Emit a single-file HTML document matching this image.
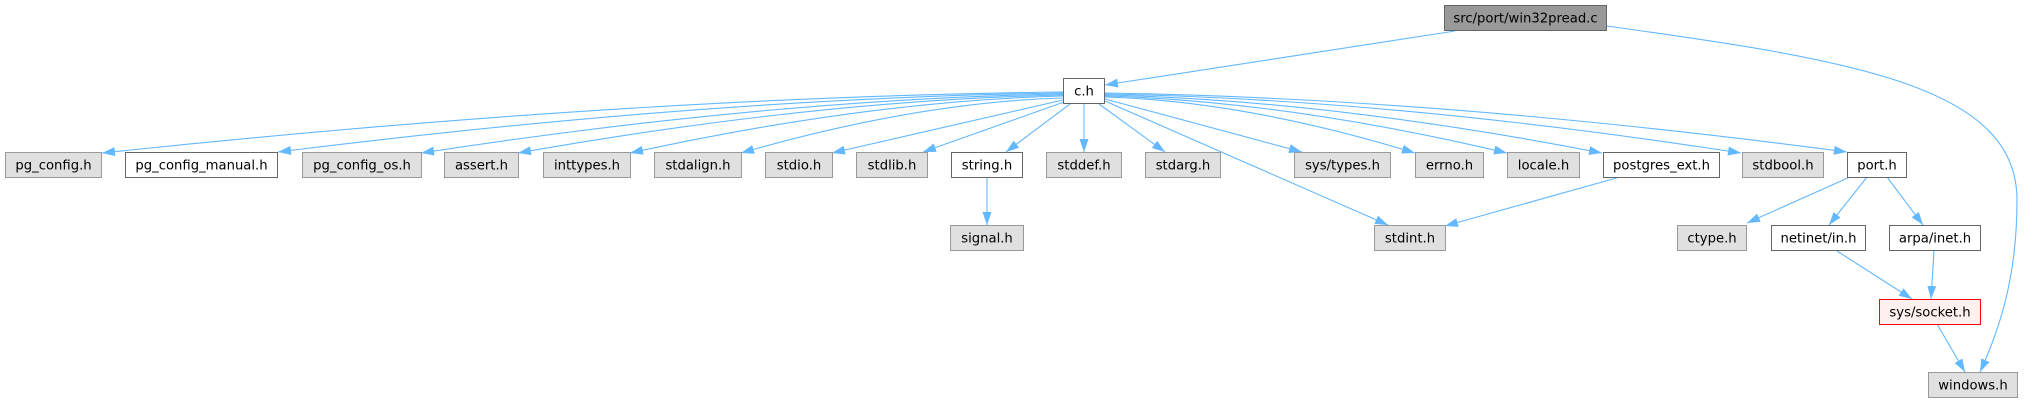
<!DOCTYPE html>
<html><head><meta charset="utf-8"><style>
html,body{margin:0;padding:0;background:#fff;}
svg{display:block;}
text{font-family:"DejaVu Sans","Liberation Sans",sans-serif;font-size:13.2px;fill:#000;text-anchor:middle;}
.g{fill:#e0e0e0;stroke:#999999;stroke-width:1;}
.w{fill:#ffffff;stroke:#666666;stroke-width:1;}
.e{fill:none;stroke:#63b8ff;stroke-width:1.1;}
</style></head><body>
<svg width="2032" height="403" viewBox="0 0 2032 403" xmlns="http://www.w3.org/2000/svg">
<defs>
<marker id="a" markerUnits="userSpaceOnUse" markerWidth="13" markerHeight="9" viewBox="0 0 13 9" refX="13" refY="4.5" orient="auto">
<path d="M0,0 L13,4.5 L0,9 z" fill="#63b8ff"/>
</marker>
</defs>
<rect width="2032" height="403" fill="#fff"/>

<!-- edges -->
<g class="edges">
<path class="e" marker-end="url(#a)" d="M1455,31 L1105,85"/>
<path class="e" marker-end="url(#a)" d="M1607,26 C1850,60 2017,85 2017,200 C2017,270 2003,322 1980,372"/>

<path class="e" marker-end="url(#a)" d="M1063,92 Q631,97 102,153"/>
<path class="e" marker-end="url(#a)" d="M1063,93 Q710,98 278,152"/>
<path class="e" marker-end="url(#a)" d="M1063,94 Q774,99 421,153"/>
<path class="e" marker-end="url(#a)" d="M1063,95 Q818,100 518,153"/>
<path class="e" marker-end="url(#a)" d="M1063,96 Q868,101 630,153"/>
<path class="e" marker-end="url(#a)" d="M1063,98 Q918,102 741,153"/>
<path class="e" marker-end="url(#a)" d="M1063,100 L832,153"/>
<path class="e" marker-end="url(#a)" d="M1064,102 L923,152"/>
<path class="e" marker-end="url(#a)" d="M1070,104 L1006,152"/>
<path class="e" marker-end="url(#a)" d="M1084,104 L1084,152"/>
<path class="e" marker-end="url(#a)" d="M1099,104 L1165,152"/>
<path class="e" marker-end="url(#a)" d="M1105,101 L1388,225"/>
<path class="e" marker-end="url(#a)" d="M1105,99 L1302,152"/>
<path class="e" marker-end="url(#a)" d="M1105,97 Q1245,101 1415,153"/>
<path class="e" marker-end="url(#a)" d="M1105,96 Q1286,101 1507,153"/>
<path class="e" marker-end="url(#a)" d="M1105,95 Q1329,100 1602,153"/>
<path class="e" marker-end="url(#a)" d="M1105,94 Q1391,99 1741,153"/>
<path class="e" marker-end="url(#a)" d="M1105,93 Q1439,98 1847,152"/>

<path class="e" marker-end="url(#a)" d="M987,177 L987,225"/>
<path class="e" marker-end="url(#a)" d="M1620,177 L1445,226"/>
<path class="e" marker-end="url(#a)" d="M1850,177 L1747,223"/>
<path class="e" marker-end="url(#a)" d="M1867,177 L1829,225"/>
<path class="e" marker-end="url(#a)" d="M1887,177 L1923,225"/>
<path class="e" marker-end="url(#a)" d="M1837,251 L1912,299"/>
<path class="e" marker-end="url(#a)" d="M1934,251 L1931,299"/>
<path class="e" marker-end="url(#a)" d="M1937,324 L1965,372"/>
</g>

<!-- nodes -->
<rect x="1444.5" y="5.5" width="162" height="25" fill="#999999" stroke="#666666"/>
<text x="1525.5" y="22.5">src/port/win32pread.c</text>

<rect class="w" x="1063.5" y="78.5" width="41" height="25"/>
<text x="1084" y="95.5">c.h</text>

<rect class="g" x="5.5" y="152.5" width="96" height="25"/>
<text x="53.5" y="169.5">pg_config.h</text>
<rect class="w" x="125.5" y="152.5" width="152" height="25"/>
<text x="201.5" y="169.5">pg_config_manual.h</text>
<rect class="g" x="302.5" y="152.5" width="119" height="25"/>
<text x="362" y="169.5">pg_config_os.h</text>
<rect class="g" x="444.5" y="152.5" width="74" height="25"/>
<text x="481.5" y="169.5">assert.h</text>
<rect class="g" x="543.5" y="152.5" width="87" height="25"/>
<text x="587" y="169.5">inttypes.h</text>
<rect class="g" x="654.5" y="152.5" width="87" height="25"/>
<text x="698" y="169.5">stdalign.h</text>
<rect class="g" x="765.5" y="152.5" width="67" height="25"/>
<text x="799" y="169.5">stdio.h</text>
<rect class="g" x="856.5" y="152.5" width="71" height="25"/>
<text x="892" y="169.5">stdlib.h</text>
<rect class="w" x="951.5" y="152.5" width="71" height="25"/>
<text x="987" y="169.5">string.h</text>
<rect class="g" x="1046.5" y="152.5" width="75" height="25"/>
<text x="1084" y="169.5">stddef.h</text>
<rect class="g" x="1145.5" y="152.5" width="75" height="25"/>
<text x="1183" y="169.5">stdarg.h</text>
<rect class="g" x="1294.5" y="152.5" width="96" height="25"/>
<text x="1342.5" y="169.5">sys/types.h</text>
<rect class="g" x="1415.5" y="152.5" width="68" height="25"/>
<text x="1449.5" y="169.5">errno.h</text>
<rect class="g" x="1507.5" y="152.5" width="72" height="25"/>
<text x="1543.5" y="169.5">locale.h</text>
<rect class="w" x="1603.5" y="152.5" width="116" height="25"/>
<text x="1661.5" y="169.5">postgres_ext.h</text>
<rect class="g" x="1742.5" y="152.5" width="81" height="25"/>
<text x="1783" y="169.5">stdbool.h</text>
<rect class="w" x="1847.5" y="152.5" width="59" height="25"/>
<text x="1877" y="169.5">port.h</text>

<rect class="g" x="950.5" y="225.5" width="73" height="25"/>
<text x="987" y="242.5">signal.h</text>
<rect class="g" x="1374.5" y="225.5" width="71" height="25"/>
<text x="1410" y="242.5">stdint.h</text>
<rect class="g" x="1677.5" y="225.5" width="69" height="25"/>
<text x="1712" y="242.5">ctype.h</text>
<rect class="w" x="1771.5" y="225.5" width="94" height="25"/>
<text x="1818.5" y="242.5">netinet/in.h</text>
<rect class="w" x="1889.5" y="225.5" width="91" height="25"/>
<text x="1935" y="242.5">arpa/inet.h</text>

<rect x="1879.5" y="299.5" width="101" height="25" fill="#fff0f0" stroke="#ff0000"/>
<text x="1930" y="316.5">sys/socket.h</text>

<rect class="g" x="1928.5" y="372.5" width="89" height="25"/>
<text x="1973" y="389.5">windows.h</text>
</svg>
</body></html>
